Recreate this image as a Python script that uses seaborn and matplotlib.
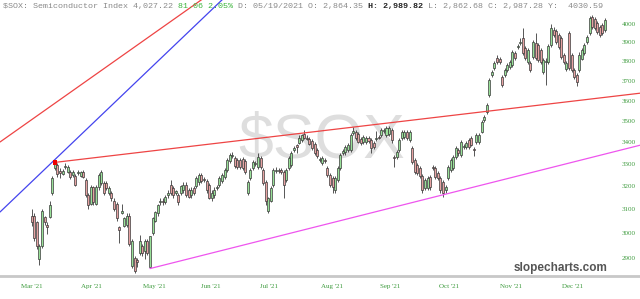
import numpy as np
import matplotlib
matplotlib.use("Agg")
import matplotlib.pyplot as plt
from matplotlib.ticker import NullLocator, NullFormatter
import seaborn as sns

# ---------------- data ----------------
opens = [3074, 3074, 3045, 2897, 2950, 3066, 3036, 3066, 3173, 3280,
         3294, 3266, 3253, 3285, 3262, 3262, 3249, 3244, 3258, 3244,
         3262, 3226, 3160, 3125, 3195, 3125, 3195, 3213, 3213, 3213,
         3169, 3169, 3138, 3125, 3024, 3083, 3032, 3036, 3074, 2870,
         2901, 2893, 2921, 2950, 2929, 2970, 2864.35, 3003, 3053, 3083,
         3130, 3138, 3134, 3160, 3204, 3191, 3173, 3160, 3169, 3182,
         3208, 3182, 3160, 3191, 3200, 3217, 3249, 3231, 3222, 3204,
         3147, 3160, 3191, 3204, 3222, 3240, 3271, 3312, 3334, 3325,
         3316, 3316, 3321, 3312, 3173, 3235, 3280, 3298, 3285, 3325,
         3271, 3217, 3095, 3138, 3204, 3266, 3271, 3271, 3262, 3226,
         3280, 3294, 3362, 3386, 3395, 3409, 3437, 3418, 3414, 3404,
         3390, 3362, 3316, 3303, 3316, 3280, 3249, 3235, 3182, 3226,
         3280, 3348, 3353, 3362, 3362, 3442, 3447, 3437, 3413, 3400,
         3400, 3418, 3409, 3395, 3413, 3423, 3433, 3451, 3433, 3437,
         3456, 3330, 3330, 3362, 3418, 3423, 3447, 3409, 3371, 3316,
         3294, 3280, 3244, 3191, 3191, 3240, 3285, 3280, 3258, 3235,
         3217, 3182, 3235, 3271, 3280, 3330, 3362, 3339, 3376, 3376,
         3409, 3418, 3367, 3400, 3400, 3447, 3504, 3543, 3627, 3729,
         3764, 3816, 3811, 3718, 3729, 3754, 3770, 3780, 3843, 3875,
         3897, 3924, 3870, 3796, 3790, 3822, 3897, 3886, 3859, 3744,
         3796, 3796, 3886, 3967, 3962, 3940, 3924, 3832, 3759, 3951,
         3832, 3754, 3729, 3754, 3811, 3843, 3902, 3951, 4038, 4027,
         4006, 3984, 3995, 3967]
highs = [3104, 3083, 3053, 2958, 3104, 3074, 3045, 3138, 3244, 3307,
         3303, 3280, 3276, 3303, 3294, 3271, 3271, 3253, 3271, 3266,
         3271, 3235, 3169, 3204, 3200, 3204, 3258, 3271, 3222, 3222,
         3200, 3178, 3147, 3134, 3032, 3125, 3070, 3083, 3083, 2978,
         2909, 2901, 2995, 2958, 2978, 2978, 2989.82, 3070, 3095, 3125,
         3151, 3147, 3164, 3182, 3226, 3200, 3186, 3169, 3208, 3217,
         3217, 3191, 3195, 3200, 3244, 3258, 3258, 3240, 3231, 3213,
         3182, 3195, 3204, 3244, 3258, 3280, 3325, 3348, 3353, 3334,
         3325, 3325, 3330, 3321, 3226, 3280, 3316, 3312, 3348, 3334,
         3280, 3226, 3155, 3200, 3280, 3285, 3280, 3280, 3271, 3280,
         3334, 3357, 3381, 3390, 3433, 3437, 3456, 3433, 3423, 3413,
         3400, 3371, 3330, 3334, 3325, 3289, 3258, 3244, 3244, 3289,
         3348, 3367, 3386, 3395, 3442, 3470, 3456, 3447, 3423, 3433,
         3428, 3428, 3418, 3404, 3451, 3433, 3466, 3466, 3475, 3475,
         3466, 3339, 3362, 3418, 3456, 3456, 3456, 3456, 3381, 3325,
         3303, 3289, 3253, 3235, 3244, 3249, 3294, 3289, 3266, 3244,
         3226, 3204, 3294, 3325, 3339, 3381, 3371, 3409, 3390, 3404,
         3418, 3428, 3376, 3442, 3442, 3504, 3528, 3587, 3713, 3754,
         3801, 3832, 3822, 3729, 3764, 3790, 3806, 3859, 3853, 3891,
         3924, 3978, 3880, 3870, 3801, 3913, 3951, 3897, 3870, 3816,
         3816, 3891, 4000, 3984, 3973, 3951, 3935, 3843, 3801, 3962,
         3843, 3764, 3739, 3848, 3870, 3897, 3940, 4044, 4050, 4038,
         4016, 3995, 4006, 4033]
lows = [3032, 2970, 2937, 2874, 2941, 3036, 2999, 3062, 3164, 3271,
        3240, 3235, 3249, 3276, 3258, 3231, 3240, 3200, 3249, 3240,
        3235, 3155, 3104, 3117, 3121, 3117, 3186, 3204, 3160, 3182,
        3160, 3138, 3095, 3053, 2962, 3079, 3024, 3028, 2950, 2862,
        2839, 2866, 2913, 2909, 2897, 2913, 2862.68, 2995, 3045, 3074,
        3117, 3121, 3125, 3151, 3160, 3151, 3164, 3121, 3160, 3173,
        3155, 3147, 3151, 3164, 3191, 3208, 3213, 3217, 3173, 3143,
        3138, 3151, 3182, 3195, 3213, 3231, 3262, 3303, 3325, 3280,
        3276, 3276, 3271, 3253, 3164, 3226, 3271, 3289, 3276, 3276,
        3204, 3117, 3083, 3130, 3195, 3258, 3258, 3253, 3147, 3217,
        3271, 3285, 3353, 3348, 3390, 3400, 3413, 3409, 3386, 3362,
        3339, 3325, 3307, 3294, 3303, 3240, 3195, 3173, 3173, 3217,
        3271, 3339, 3343, 3353, 3353, 3433, 3409, 3395, 3386, 3390,
        3390, 3395, 3348, 3367, 3404, 3413, 3423, 3442, 3423, 3428,
        3395, 3285, 3321, 3353, 3409, 3413, 3409, 3400, 3298, 3253,
        3249, 3235, 3169, 3182, 3182, 3186, 3271, 3231, 3226, 3173,
        3155, 3173, 3226, 3262, 3271, 3321, 3334, 3330, 3367, 3367,
        3367, 3381, 3334, 3390, 3390, 3442, 3494, 3533, 3617, 3718,
        3754, 3785, 3785, 3667, 3718, 3744, 3759, 3770, 3806, 3864,
        3886, 3832, 3806, 3785, 3744, 3811, 3806, 3796, 3785, 3734,
        3677, 3785, 3875, 3929, 3891, 3864, 3811, 3785, 3749, 3754,
        3744, 3708, 3672, 3744, 3806, 3832, 3891, 3940, 3973, 3967,
        3946, 3929, 3940, 3956]
closes = [3045, 2982, 2950, 2950, 3095, 3045, 3028, 3117, 3235, 3298,
          3253, 3258, 3266, 3289, 3285, 3240, 3262, 3208, 3262, 3262,
          3240, 3160, 3117, 3195, 3130, 3195, 3249, 3262, 3169, 3191,
          3191, 3147, 3104, 3062, 3015, 3095, 3062, 3074, 2958, 2970,
          2850, 2885, 2970, 2921, 2970, 2921, 2987.28, 3062, 3087, 3117,
          3138, 3130, 3155, 3169, 3169, 3160, 3178, 3130, 3200, 3208,
          3164, 3155, 3186, 3173, 3235, 3249, 3222, 3226, 3182, 3151,
          3173, 3186, 3195, 3235, 3249, 3271, 3316, 3339, 3339, 3289,
          3285, 3285, 3280, 3262, 3217, 3271, 3307, 3303, 3330, 3285,
          3213, 3138, 3147, 3191, 3271, 3271, 3266, 3262, 3208, 3271,
          3325, 3348, 3371, 3376, 3418, 3433, 3418, 3414, 3390, 3371,
          3348, 3334, 3321, 3325, 3312, 3249, 3204, 3195, 3235, 3280,
          3339, 3357, 3376, 3386, 3433, 3451, 3418, 3400, 3395, 3423,
          3418, 3404, 3371, 3376, 3418, 3421, 3456, 3456, 3466, 3466,
          3409, 3328, 3353, 3409, 3447, 3447, 3418, 3447, 3307, 3262,
          3258, 3244, 3182, 3226, 3235, 3195, 3280, 3240, 3235, 3182,
          3169, 3195, 3285, 3316, 3330, 3371, 3348, 3400, 3381, 3395,
          3376, 3386, 3362, 3433, 3433, 3494, 3518, 3578, 3703, 3744,
          3790, 3796, 3796, 3677, 3754, 3780, 3796, 3848, 3816, 3880,
          3902, 3843, 3816, 3859, 3754, 3902, 3816, 3806, 3796, 3806,
          3801, 3880, 3978, 3940, 3902, 3875, 3822, 3796, 3790, 3764,
          3754, 3718, 3692, 3832, 3859, 3886, 3929, 4033, 3984, 3978,
          3956, 3940, 3951, 4022]

month_labels = ["Mar '21", "Apr '21", "May '21", "Jun '21", "Jul '21",
                "Aug '21", "Sep '21", "Oct '21", "Nov '21", "Dec '21"]
month_pos = [-0.04, 23.18, 47.57, 69.74, 92.14, 116.8, 139.35, 162.3, 186.4, 210.2]
price_ticks = [2900, 3000, 3100, 3200, 3300, 3400, 3500, 3600, 3700, 3800, 3900, 4000]

# drawn trend lines (bar index, price)
support_x, support_y = [46, 236.6], [2858, 3386]
resist_x, resist_y = [9, 236.6], [3307, 3637]
chan_red_x, chan_red_y = [-12.33, 76.9], [3401, 4249]
chan_blue_x, chan_blue_y = [-12.33, 82.1], [3089, 4249]
pivot_x, pivot_y = [9], [3307]

header_parts = ["$SOX: Semiconductor Index 4,027.22", "81.06 2.05%",
                "D: 05/19/2021 O: 2,864.35", "H: 2,989.82",
                "L: 2,862.68 C: 2,987.28 Y:  4030.59"]
header_colors = ["#8a8a8a", "#3cb43c", "#8a8a8a", "#222222", "#8a8a8a"]
header_weights = ["normal", "normal", "normal", "bold", "normal"]

# ---------------- drawing ----------------
sns.set_theme(style="white")
plt.rcParams['font.family'] = ['DejaVu Sans']

W, H = 640, 299
fig = plt.figure(figsize=(6.4, 2.99), dpi=100)
ax = fig.add_axes([0, 23 / H, 1, 276 / H])
ax.set_facecolor("white")
ax.set_yscale("log")
ax.set_xlim(-12.33, 236.6)
ax.set_ylim(2829, 4134)

# watermark
ax.text(0.503, 0.49, "$SOX", transform=ax.transAxes, ha="center", va="center",
        fontsize=45, color="#dedede", family="Liberation Sans", zorder=0)

x = np.arange(len(opens))
o = np.array(opens, float); c = np.array(closes, float)
hi = np.array(highs, float); lo = np.array(lows, float)
up = c >= o
ax.vlines(x, lo, hi, color="#3a3a3a", linewidth=0.6, zorder=2)
bottom = np.minimum(o, c)
height = np.maximum(np.abs(c - o), 0.8)
ax.bar(x[up], height[up], bottom=bottom[up], width=0.78, color="#98e098",
       edgecolor="#3a3a3a", linewidth=0.5, zorder=3)
ax.bar(x[~up], height[~up], bottom=bottom[~up], width=0.78, color="#e6a2a2",
       edgecolor="#3a3a3a", linewidth=0.5, zorder=3)

sns.lineplot(x=support_x, y=support_y, ax=ax, color="#ee55ee", linewidth=0.9, zorder=4)
sns.lineplot(x=resist_x, y=resist_y, ax=ax, color="#ee4444", linewidth=0.9, zorder=4)
sns.lineplot(x=chan_red_x, y=chan_red_y, ax=ax, color="#ee4444", linewidth=0.9, zorder=4)
sns.lineplot(x=chan_blue_x, y=chan_blue_y, ax=ax, color="#4444ee", linewidth=0.9, zorder=4)
sns.scatterplot(x=pivot_x, y=pivot_y, ax=ax, marker="s", color="#ee0000", s=10,
                edgecolor="none", zorder=5)

# axes styling
for s in ["top", "left", "right"]:
    ax.spines[s].set_visible(False)
ax.spines["bottom"].set_color("#c8c8c8")
ax.spines["bottom"].set_linewidth(2)

green = "#3c9a3c"
ax.yaxis.tick_right()
ax.yaxis.set_minor_locator(NullLocator())
ax.yaxis.set_minor_formatter(NullFormatter())
ax.set_yticks(price_ticks)
ax.set_yticklabels([str(p) for p in price_ticks])
ax.tick_params(axis="y", length=0, pad=-13, labelsize=5, labelcolor=green)
ax.set_xticks(month_pos)
ax.set_xticklabels(month_labels)
ax.tick_params(axis="x", length=0, pad=6, labelsize=5, labelcolor=green)
for lbl in ax.get_xticklabels() + ax.get_yticklabels():
    lbl.set_fontfamily("Liberation Serif")
ax.grid(False)

# header: pieces laid out one after another, measured with the renderer
renderer = fig.canvas.get_renderer()
yh = 1 - 6.5 / H
xpx = 3.0
space_px = 5.0
for txt, col, wt in zip(header_parts, header_colors, header_weights):
    t = fig.text(xpx / W, yh, txt, family="Liberation Mono", fontsize=6.0,
                 color=col, weight=wt, va="center", ha="left")
    bb = t.get_window_extent(renderer)
    xpx = bb.x1 + space_px

fig.text(607 / W, 1 - 268 / H, "slopecharts.com", family="Liberation Sans",
         fontsize=8.5, weight="bold", color="#555555", ha="right", va="center")

fig.savefig("out.png", dpi=100)
